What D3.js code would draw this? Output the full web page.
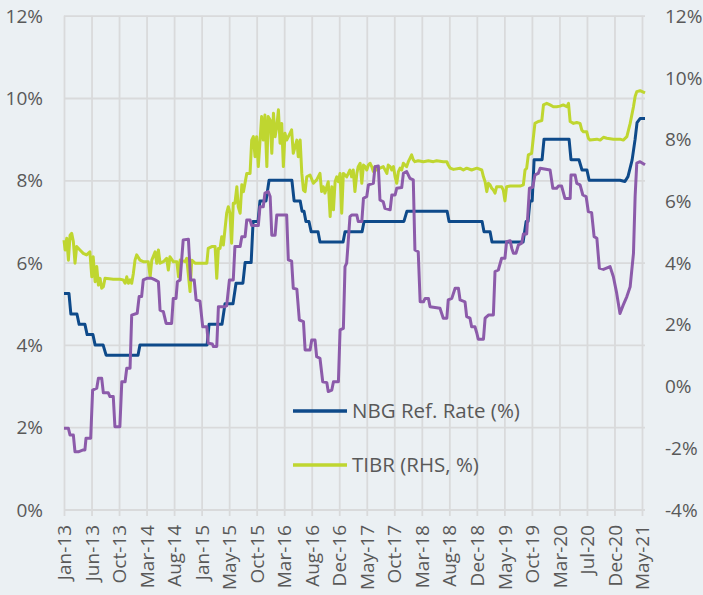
<!DOCTYPE html>
<html><head><meta charset="utf-8">
<script src="https://cdn.jsdelivr.net/npm/d3@7"></script>
<style>
html,body{margin:0;padding:0;background:#EBF0F3;}
svg{display:block;font-family:"Open Sans",sans-serif;}
</style></head><body>
<svg id="chart" width="703" height="595"></svg>
<script>
// ---------- DATA ----------
const xLabels = ["Jan-13","Jun-13","Oct-13","Mar-14","Aug-14","Jan-15","May-15","Oct-15","Mar-16","Aug-16","Dec-16","May-17","Oct-17","Mar-18","Aug-18","Dec-18","May-19","Oct-19","Mar-20","Jul-20","Dec-20","May-21"];
const leftTicks = [0,2,4,6,8,10,12];
const rightTicks = [-4,-2,0,2,4,6,8,10,12];
const legendLabels = ["NBG Ref. Rate (%)","TIBR (RHS, %)"];

// [position on category axis (tick index), value %]
const nbgRate = [[0,5.25],[0.18,5.25],[0.25,4.75],[0.47,4.75],[0.55,4.5],[0.76,4.5],[0.84,4.25],[1.05,4.25],[1.13,4.0],[1.42,4.0],[1.53,3.75],[2.69,3.75],[2.76,4.0],[5.20,4.0],[5.27,4.5],[5.74,4.5],[5.85,5.0],[6.14,5.0],[6.25,5.5],[6.50,5.5],[6.58,6.0],[6.80,6.0],[6.87,7.0],[7.05,7.0],[7.12,7.5],[7.34,7.5],[7.45,8.0],[8.28,8.0],[8.36,7.5],[8.58,7.5],[8.65,7.25],[8.72,7.25],[8.79,7.0],[8.90,7.0],[8.98,6.75],[9.23,6.75],[9.30,6.5],[10.14,6.5],[10.21,6.75],[10.83,6.75],[10.90,7.0],[12.35,7.0],[12.46,7.25],[13.92,7.25],[13.99,7.0],[15.19,7.0],[15.26,6.75],[15.48,6.75],[15.55,6.5],[16.68,6.5],[16.79,7.0],[16.86,7.0],[16.93,7.5],[17.01,7.5],[17.08,8.5],[17.37,8.5],[17.44,9.0],[18.35,9.0],[18.42,8.5],[18.71,8.5],[18.82,8.25],[19.00,8.25],[19.08,8.0],[20.20,8.0],[20.38,7.97],[20.49,8.09],[20.64,8.49],[20.75,9.0],[20.82,9.4],[20.93,9.5],[21.11,9.5]];

const tibrRate = [[0,4.73],[0.04,4.41],[0.10,4.79],[0.16,4.08],[0.22,4.89],[0.28,4.95],[0.34,4.68],[0.40,3.98],[0.46,4.52],[0.58,4.41],[0.70,4.30],[0.82,4.25],[0.94,4.35],[1.01,3.54],[1.06,4.19],[1.13,3.38],[1.19,3.87],[1.25,3.27],[1.31,3.49],[1.37,3.17],[1.43,3.22],[1.49,3.49],[1.79,3.46],[2.03,3.46],[2.15,3.44],[2.22,3.33],[2.28,3.54],[2.34,3.33],[2.40,3.44],[2.46,3.33],[2.52,3.65],[2.58,4.08],[2.64,4.25],[2.76,4.08],[2.88,4.03],[3.06,4.03],[3.13,3.54],[3.19,4.08],[3.31,4.35],[3.37,3.98],[3.43,4.41],[3.49,3.98],[3.61,4.03],[3.73,4.14],[3.79,3.76],[3.85,4.19],[3.97,4.03],[4.10,4.03],[4.16,3.54],[4.22,4.08],[4.40,4.03],[4.46,4.14],[4.58,3.06],[4.64,4.08],[4.76,3.98],[4.94,3.98],[5.19,3.98],[5.24,4.46],[5.37,4.52],[5.49,4.52],[5.55,3.49],[5.61,4.46],[5.67,4.46],[5.73,4.84],[5.79,4.57],[5.91,5.60],[5.97,5.81],[6.03,5.60],[6.09,4.63],[6.15,5.92],[6.21,5.92],[6.28,6.46],[6.33,5.81],[6.40,5.60],[6.46,6.52],[6.52,6.30],[6.64,6.89],[6.76,6.89],[6.82,7.97],[6.88,8.08],[6.94,7.43],[7.00,8.08],[7.06,7.11],[7.18,8.73],[7.24,7.97],[7.30,8.78],[7.37,7.11],[7.42,8.73],[7.49,8.62],[7.55,7.54],[7.61,8.84],[7.67,8.08],[7.73,8.40],[7.79,8.95],[7.85,7.87],[7.91,8.51],[7.97,7.11],[8.03,8.19],[8.09,7.97],[8.21,8.19],[8.27,8.30],[8.33,7.54],[8.46,7.97],[8.51,7.43],[8.58,7.97],[8.64,6.89],[8.70,6.35],[8.76,6.30],[8.82,6.78],[8.94,6.84],[9.06,6.57],[9.18,6.68],[9.30,6.89],[9.36,6.30],[9.42,6.46],[9.48,6.25],[9.60,6.62],[9.67,5.49],[9.73,6.46],[9.79,5.71],[9.85,6.62],[9.91,6.78],[9.97,6.62],[10.03,6.89],[10.09,5.60],[10.15,6.89],[10.27,6.78],[10.39,7.00],[10.45,6.78],[10.51,7.00],[10.57,6.30],[10.64,6.89],[10.69,7.11],[10.76,7.22],[10.82,6.57],[10.88,7.16],[10.94,7.11],[11.00,7.00],[11.06,7.16],[11.12,7.22],[11.18,7.11],[11.24,6.95],[11.30,7.11],[11.36,7.00],[11.48,7.06],[11.60,7.11],[11.73,6.89],[11.78,7.16],[11.85,7.11],[11.91,7.00],[11.97,7.11],[12.03,6.78],[12.09,6.57],[12.15,6.95],[12.21,7.06],[12.27,7.00],[12.33,7.22],[12.39,7.16],[12.45,7.11],[12.51,7.27],[12.57,7.38],[12.63,7.49],[12.69,7.33],[12.75,7.27],[12.87,7.30],[13.06,7.27],[13.24,7.30],[13.42,7.27],[13.54,7.30],[13.78,7.27],[13.91,7.27],[13.96,7.16],[14.03,7.06],[14.15,7.02],[14.39,7.06],[14.51,7.00],[14.63,7.06],[14.81,7.00],[15.00,7.06],[15.18,7.00],[15.24,6.78],[15.30,6.62],[15.36,6.30],[15.42,6.57],[15.48,6.52],[15.54,6.41],[15.60,6.35],[15.66,6.25],[15.72,6.46],[15.78,6.46],[15.90,6.46],[15.96,6.35],[16.02,6.00],[16.08,6.46],[16.21,6.48],[16.39,6.48],[16.57,6.48],[16.69,6.52],[16.75,7.00],[16.81,7.06],[16.87,7.49],[16.99,7.54],[17.05,8.03],[17.11,8.51],[17.23,8.57],[17.36,8.60],[17.42,9.11],[17.54,9.16],[17.66,9.11],[17.78,9.05],[17.90,9.05],[18.02,9.07],[18.14,9.11],[18.27,9.05],[18.33,9.16],[18.39,8.57],[18.51,8.51],[18.63,8.54],[18.75,8.51],[18.81,8.30],[18.87,8.24],[18.99,8.24],[19.05,8.03],[19.11,7.97],[19.36,8.00],[19.48,7.97],[19.60,8.06],[19.72,8.03],[19.96,8.00],[20.20,8.00],[20.32,7.97],[20.45,8.08],[20.57,8.51],[20.69,9.05],[20.75,9.38],[20.81,9.54],[20.93,9.57],[21.11,9.50]];

const inflation = [[0,-1.37],[0.16,-1.37],[0.22,-1.59],[0.34,-1.59],[0.40,-2.13],[0.52,-2.13],[0.70,-2.07],[0.76,-2.07],[0.80,-1.69],[0.97,-1.69],[1.04,-0.13],[1.19,-0.07],[1.25,0.25],[1.37,0.25],[1.43,-0.22],[1.61,-0.22],[1.67,-0.34],[1.79,-0.34],[1.85,-1.32],[2.03,-1.32],[2.10,0.14],[2.22,0.14],[2.28,0.58],[2.40,0.58],[2.46,2.30],[2.66,2.36],[2.73,2.90],[2.82,2.90],[2.88,3.44],[3.01,3.49],[3.19,3.49],[3.31,3.44],[3.43,3.38],[3.49,2.46],[3.61,2.41],[3.71,2.03],[3.91,2.03],[3.97,2.84],[4.07,2.84],[4.12,3.38],[4.22,3.44],[4.33,4.73],[4.52,4.76],[4.60,3.44],[4.73,3.44],[4.80,2.79],[4.94,2.75],[5.04,1.92],[5.19,1.92],[5.24,1.39],[5.39,1.36],[5.43,1.28],[5.55,1.28],[5.61,2.57],[5.85,2.57],[5.91,2.60],[6.01,3.44],[6.15,3.44],[6.21,4.52],[6.40,4.52],[6.46,4.84],[6.58,4.84],[6.64,5.38],[6.76,5.38],[6.82,5.20],[7.06,5.20],[7.12,5.81],[7.24,5.81],[7.30,6.25],[7.42,6.30],[7.49,6.14],[7.55,4.89],[7.67,4.89],[7.73,5.54],[8.09,5.54],[8.15,4.09],[8.27,4.05],[8.33,3.17],[8.46,3.14],[8.55,2.14],[8.70,2.09],[8.76,1.17],[8.94,1.17],[9.00,1.49],[9.12,1.49],[9.18,0.95],[9.30,0.90],[9.40,0.14],[9.55,0.11],[9.60,-0.18],[9.73,-0.13],[9.79,0.14],[9.97,0.14],[10.03,1.82],[10.15,1.87],[10.21,3.87],[10.27,3.98],[10.39,5.49],[10.45,5.54],[10.64,5.54],[10.69,5.33],[10.82,5.33],[10.88,6.08],[11.00,6.14],[11.06,6.52],[11.24,6.57],[11.30,7.11],[11.42,7.13],[11.48,6.03],[11.60,5.97],[11.66,5.76],[11.85,5.71],[11.91,6.19],[12.03,6.19],[12.09,6.41],[12.27,6.43],[12.33,6.89],[12.45,6.95],[12.57,6.73],[12.69,6.68],[12.75,4.41],[12.87,4.35],[12.94,2.73],[13.06,2.73],[13.12,2.84],[13.24,2.84],[13.30,2.57],[13.66,2.52],[13.72,2.36],[13.78,2.20],[13.91,2.20],[13.96,2.79],[14.09,2.84],[14.21,3.17],[14.33,3.17],[14.39,2.79],[14.57,2.73],[14.63,2.25],[14.75,2.20],[14.81,1.92],[14.93,1.92],[15.00,1.71],[15.05,1.52],[15.24,1.52],[15.30,2.20],[15.42,2.30],[15.60,2.30],[15.66,3.71],[15.78,3.76],[15.90,4.14],[16.02,4.14],[16.08,4.68],[16.21,4.71],[16.27,4.46],[16.33,4.30],[16.42,4.30],[16.51,4.57],[16.63,4.63],[16.69,4.93],[16.81,4.93],[16.91,6.41],[17.03,6.44],[17.11,6.84],[17.23,6.89],[17.30,7.06],[17.66,7.00],[17.76,6.41],[17.90,6.41],[17.96,6.48],[18.08,6.48],[18.20,6.08],[18.39,6.08],[18.42,6.84],[18.57,6.84],[18.63,6.57],[18.75,6.52],[18.85,6.19],[18.97,6.14],[19.05,5.65],[19.17,5.62],[19.26,4.84],[19.36,4.79],[19.45,3.82],[19.60,3.78],[19.84,3.87],[19.96,3.54],[20.08,3.01],[20.20,2.35],[20.32,2.63],[20.45,2.90],[20.57,3.22],[20.69,4.30],[20.75,6.14],[20.81,7.22],[20.93,7.27],[21.11,7.17]];

// ---------- CHART ----------
const W = 703, H = 595;
const plot = {left:64, right:642, top:15.7, bottom:509.5, gridRight:645};
const colors = {bg:"#EBF0F3", grid:"#D9DADB", text:"#595959", nbg:"#0E4A8A", tibr:"#BFD630", cpi:"#8C5BAA"};

const svg = d3.select("#chart");
svg.append("rect").attr("width",W).attr("height",H).attr("fill",colors.bg);

const x = d3.scaleLinear().domain([0, xLabels.length-1]).range([plot.left, plot.right]);
const yL = d3.scaleLinear().domain([0,12]).range([plot.bottom, plot.top]);
const yR = d3.scaleLinear().domain([-4,12]).range([plot.bottom, plot.top]);

// horizontal gridlines + left labels
const gL = svg.append("g").attr("transform",`translate(${plot.left},0)`)
  .call(d3.axisLeft(yL).tickValues(leftTicks).tickFormat(d=>d+"%")
        .tickSize(-(plot.gridRight-plot.left)).tickPadding(21));
gL.select(".domain").remove();
gL.selectAll(".tick line").attr("stroke",colors.grid).attr("stroke-width",1.8);
gL.selectAll(".tick text").attr("fill",colors.text).style("font-size","19px")
  .style("font-family","'Open Sans',sans-serif").attr("dy","0.35em");

// vertical gridlines + x labels
const gX = svg.append("g").attr("transform",`translate(0,${plot.bottom})`)
  .call(d3.axisBottom(x).tickValues(d3.range(xLabels.length)).tickFormat(i=>xLabels[i]));
gX.select(".domain").remove();
gX.selectAll(".tick line").attr("y1",6.5).attr("y2",-(plot.bottom-plot.top))
  .attr("stroke",colors.grid).attr("stroke-width",1.8);
gX.selectAll(".tick text").attr("fill",colors.text).style("font-size","19px")
  .style("font-family","'Open Sans',sans-serif")
  .attr("transform","rotate(-90)").attr("x",-15.5).attr("y",0).attr("dy","0.35em")
  .style("text-anchor","end");

// right labels
const gR = svg.append("g").attr("transform",`translate(${plot.right},0)`)
  .call(d3.axisRight(yR).tickValues(rightTicks).tickFormat(d=>d+"%").tickSize(0).tickPadding(23));
gR.select(".domain").remove();
gR.selectAll(".tick text").attr("fill",colors.text).style("font-size","19px")
  .style("font-family","'Open Sans',sans-serif").attr("dy","0.35em");

// lines
const lineR = d3.line().x(d=>x(d[0])).y(d=>yR(d[1]));
const lineL = d3.line().x(d=>x(d[0])).y(d=>yL(d[1]));
svg.append("path").datum(tibrRate).attr("d",lineR).attr("fill","none")
  .attr("stroke",colors.tibr).attr("stroke-width",3).attr("stroke-linejoin","round");
svg.append("path").datum(nbgRate).attr("d",lineL).attr("fill","none")
  .attr("stroke",colors.nbg).attr("stroke-width",3).attr("stroke-linejoin","round");
svg.append("path").datum(inflation).attr("d",lineR).attr("fill","none")
  .attr("stroke",colors.cpi).attr("stroke-width",3).attr("stroke-linejoin","round");

// legend
const legend = [{label:legendLabels[0], color:colors.nbg, y:411},{label:legendLabels[1], color:colors.tibr, y:465}];
const lg = svg.append("g");
legend.forEach(d=>{
  lg.append("line").attr("x1",293).attr("x2",347).attr("y1",d.y).attr("y2",d.y)
    .attr("stroke",d.color).attr("stroke-width",3.5);
  lg.append("text").attr("x",352).attr("y",d.y).attr("dy","0.35em")
    .attr("fill",colors.text).style("font-size","20.5px")
    .style("font-family","'Open Sans',sans-serif").text(d.label);
});
</script></body></html>
